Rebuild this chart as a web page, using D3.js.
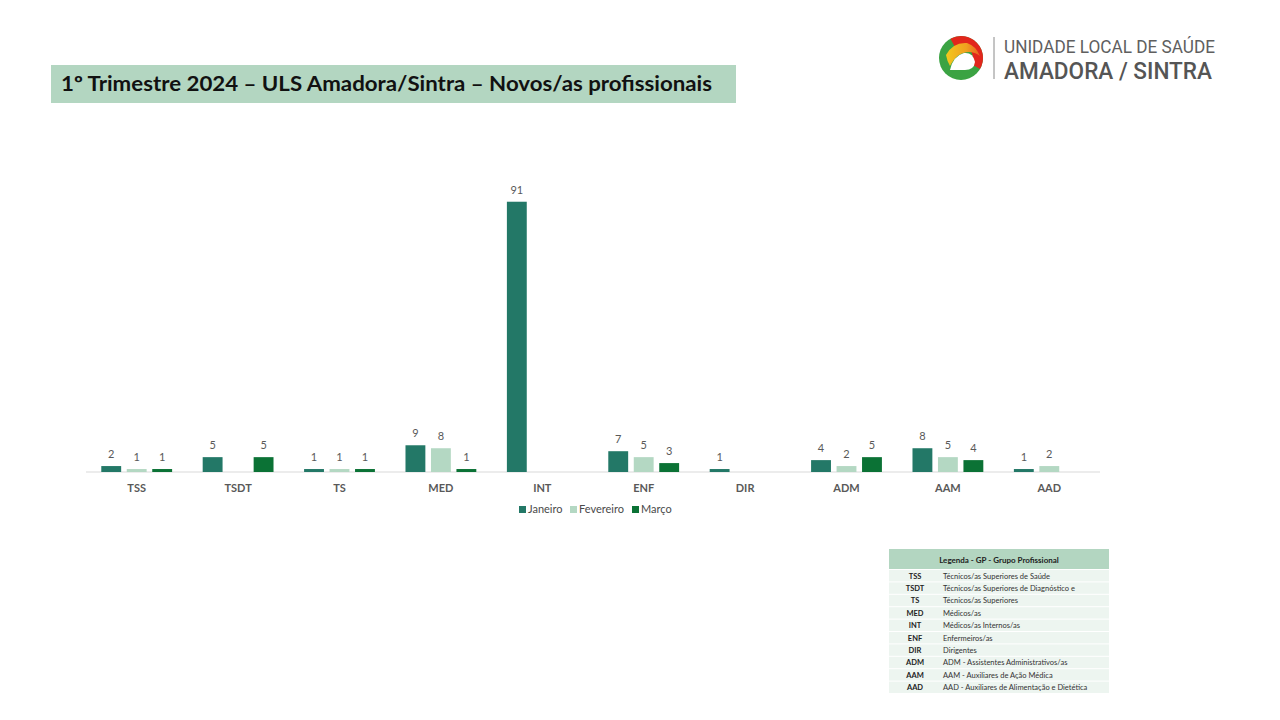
<!DOCTYPE html>
<html>
<head>
<meta charset="utf-8">
<script src="https://cdn.jsdelivr.net/npm/d3@7"></script>
<style>
  body { margin: 0; background: #fff; }
  svg { display: block; font-family: Lato, "Open Sans", sans-serif; }
</style>
</head>
<body>
<div id="chart"></div>
<script>
const categories = ["TSS", "TSDT", "TS", "MED", "INT", "ENF", "DIR", "ADM", "AAM", "AAD"];
const seriesNames = ["Janeiro", "Fevereiro", "Março"];
const janeiro = [2, 5, 1, 9, 91, 7, 1, 4, 8, 1];
const fevereiro = [1, null, 1, 8, null, 5, null, 2, 5, 2];
const marco = [1, 5, 1, 1, null, 3, null, 5, 4, null];
const colors = ["#237867", "#b4d8c3", "#0b7235"];

const legendCodes = ["TSS", "TSDT", "TS", "MED", "INT", "ENF", "DIR", "ADM", "AAM", "AAD"];
const legendDescs = [
  "Técnicos/as Superiores de Saúde",
  "Técnicos/as Superiores de Diagnóstico e",
  "Técnicos/as Superiores",
  "Médicos/as",
  "Médicos/as Internos/as",
  "Enfermeiros/as",
  "Dirigentes",
  "ADM - Assistentes Administrativos/as",
  "AAM - Auxiliares de Ação Médica",
  "AAD - Auxiliares de Alimentação e Dietética"
];

const svgWidth = 1280;
const svgHeight = 720;

const svg = d3.select("#chart")
  .append("svg")
  .attr("width", svgWidth)
  .attr("height", svgHeight);

// title box
svg.append("rect")
  .attr("x", 51).attr("y", 65)
  .attr("width", 685).attr("height", 38)
  .attr("fill", "#b3d6c1");

svg.append("text")
  .attr("x", 61).attr("y", 91)
  .attr("font-size", 20)
  .attr("font-weight", 700)
  .attr("fill", "#111")
  .attr("textLength", 651)
  .attr("lengthAdjust", "spacingAndGlyphs")
  .text("1º Trimestre 2024 – ULS Amadora/Sintra – Novos/as profissionais");

// logo
const defs = svg.append("defs");
const grad = defs.append("linearGradient")
  .attr("id", "logoGrad")
  .attr("x1", "0%").attr("y1", "50%")
  .attr("x2", "100%").attr("y2", "50%");
grad.append("stop").attr("offset", "0%").attr("stop-color", "#f2c91c");
grad.append("stop").attr("offset", "60%").attr("stop-color", "#f0a020");
grad.append("stop").attr("offset", "100%").attr("stop-color", "#e8601f");

const logo = svg.append("g").attr("transform", "translate(961,58)");
logo.append("circle").attr("r", 22).attr("fill", "#3ba343");
logo.append("path")
  .attr("d", d3.arc().innerRadius(12).outerRadius(22)({ startAngle: -0.5, endAngle: 2.1 }))
  .attr("fill", "#e2261c");
logo.append("path")
  .attr("d", "M-15,-3 Q-8,-16 6,-15 Q15,-12 19,-2 Q14,-6 8,-6 Q-4,-6 -11,8 Q-14,3 -15,-3 Z")
  .attr("fill", "url(#logoGrad)");
logo.append("path")
  .attr("d", "M-11,12 Q-8,-2 3,-5 Q12,-6 14,4 Q13,12 4,12 Z")
  .attr("fill", "#fff");

svg.append("line")
  .attr("x1", 994).attr("x2", 994)
  .attr("y1", 37).attr("y2", 79)
  .attr("stroke", "#8a8a8a").attr("stroke-width", 1);

svg.append("text")
  .attr("x", 1004).attr("y", 52.5)
  .attr("font-family", "Roboto, sans-serif")
  .attr("font-size", 18)
  .attr("fill", "#5f5f5f")
  .attr("textLength", 211)
  .attr("lengthAdjust", "spacingAndGlyphs")
  .text("UNIDADE LOCAL DE SAÚDE");

svg.append("text")
  .attr("x", 1004).attr("y", 78.5)
  .attr("font-family", "Roboto, sans-serif")
  .attr("font-size", 23.5)
  .attr("font-weight", 500)
  .attr("fill", "#555")
  .attr("textLength", 208)
  .attr("lengthAdjust", "spacingAndGlyphs")
  .text("AMADORA / SINTRA");

// chart
const x0 = d3.scaleBand()
  .domain(categories)
  .range([86, 1100]);

const x1 = d3.scaleBand()
  .domain(seriesNames)
  .range([0, x0.bandwidth()])
  .paddingInner(0.22)
  .paddingOuter(0.6);

const y = d3.scaleLinear()
  .domain([0, 100])
  .range([472, 175]);

const seriesData = [janeiro, fevereiro, marco];
const rows = [];
seriesData.forEach((vals, si) => {
  vals.forEach((v, ci) => {
    if (v != null) rows.push({ cat: categories[ci], series: seriesNames[si], value: v, color: colors[si] });
  });
});

svg.append("line")
  .attr("x1", 86).attr("x2", 1100)
  .attr("y1", y(0)).attr("y2", y(0))
  .attr("stroke", "#d9d9d9");

svg.append("g")
  .selectAll("rect")
  .data(rows)
  .join("rect")
  .attr("x", d => x0(d.cat) + x1(d.series))
  .attr("y", d => y(d.value))
  .attr("width", x1.bandwidth())
  .attr("height", d => y(0) - y(d.value))
  .attr("fill", d => d.color);

svg.append("g")
  .selectAll("text")
  .data(rows)
  .join("text")
  .attr("x", d => x0(d.cat) + x1(d.series) + x1.bandwidth() / 2)
  .attr("y", d => y(d.value) - 8)
  .attr("text-anchor", "middle")
  .attr("font-size", 11)
  .attr("fill", "#595959")
  .text(d => d.value);

const xAxis = svg.append("g")
  .attr("transform", `translate(0, ${y(0)})`)
  .call(d3.axisBottom(x0).tickSize(0).tickPadding(12));
xAxis.select(".domain").remove();
xAxis.selectAll("text")
  .attr("font-family", "Lato, sans-serif")
  .attr("font-size", 11)
  .attr("font-weight", 700)
  .attr("fill", "#595959");

// legend
const legendX = [519, 570, 632];
const legend = svg.append("g");
seriesNames.forEach((name, i) => {
  legend.append("rect")
    .attr("x", legendX[i]).attr("y", 506)
    .attr("width", 7).attr("height", 7)
    .attr("fill", colors[i]);
  legend.append("text")
    .attr("x", legendX[i] + 9).attr("y", 513)
    .attr("font-size", 11)
    .attr("fill", "#4a4a4a")
    .text(name);
});

// legend table
const tx = 889, tw = 220, ty = 549, th = 20, rh = 12.4;
const table = svg.append("g");
table.append("rect")
  .attr("x", tx).attr("y", ty)
  .attr("width", tw).attr("height", th)
  .attr("fill", "#b3d6c1");
table.append("text")
  .attr("x", tx + tw / 2).attr("y", ty + 14)
  .attr("text-anchor", "middle")
  .attr("font-size", 8)
  .attr("font-weight", 700)
  .attr("fill", "#222")
  .text("Legenda - GP - Grupo Profissional");

const tableRows = table.selectAll("g.row")
  .data(legendCodes.map((c, i) => ({ code: c, desc: legendDescs[i] })))
  .join("g")
  .attr("class", "row")
  .attr("transform", (d, i) => `translate(${tx}, ${ty + th + 1 + i * rh})`);

tableRows.append("rect")
  .attr("width", tw).attr("height", rh - 1)
  .attr("fill", "#edf5f0");
tableRows.append("text")
  .attr("x", 26).attr("y", 8.5)
  .attr("text-anchor", "middle")
  .attr("font-size", 7.5)
  .attr("font-weight", 700)
  .attr("fill", "#222")
  .text(d => d.code);
tableRows.append("text")
  .attr("x", 54).attr("y", 8.5)
  .attr("font-size", 7.5)
  .attr("fill", "#333")
  .text(d => d.desc);
</script>
</body>
</html>
